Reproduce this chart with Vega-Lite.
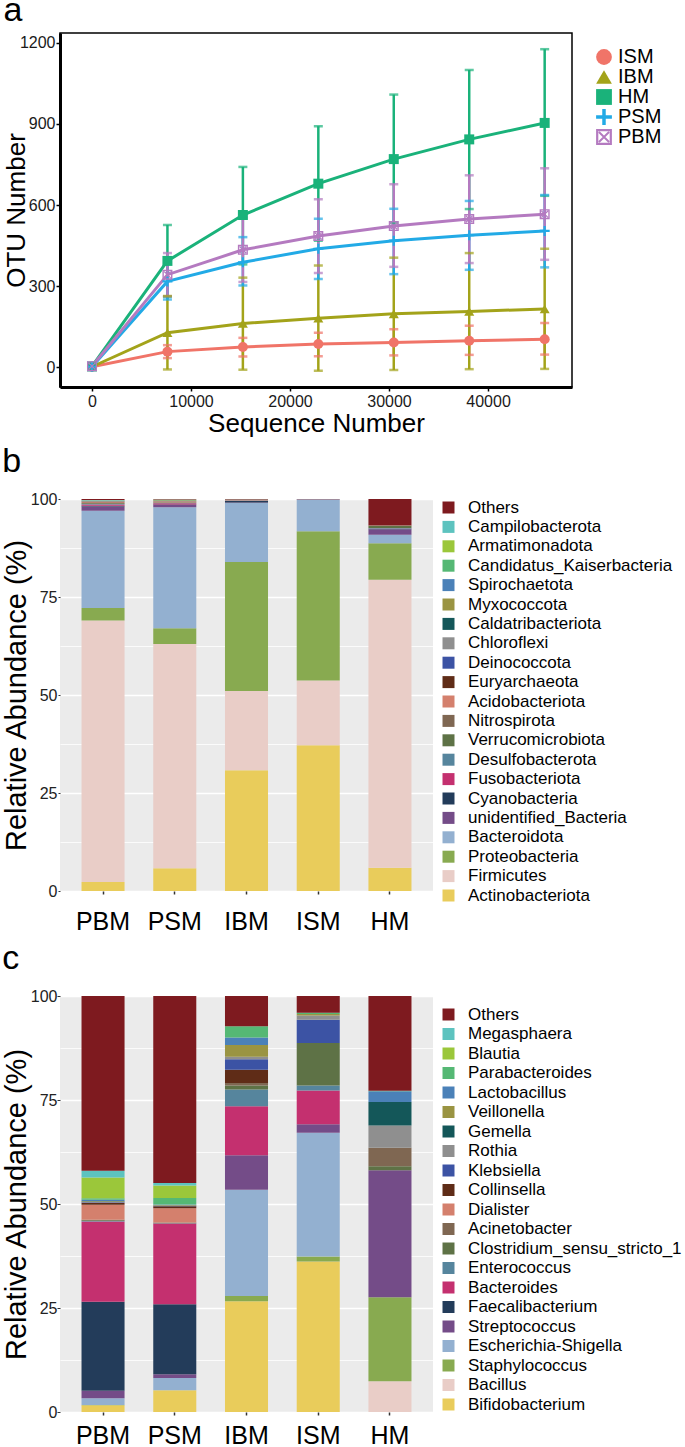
{
  "$schema": "https://vega.github.io/schema/vega-lite/v6.json",
  "padding": {"left": 2, "top": -7, "right": 0, "bottom": 0},
  "background": "white",
  "columns": 1,
  "spacing": 8,
  "config": {
    "font": "Liberation Sans",
    "axis": {"labelColor": "#1a1a1a", "titleColor": "#000000", "titleFontWeight": "normal"},
    "title": {"fontWeight": "normal", "color": "#000000"}
  },
  "resolve": {"scale": {"color": "independent", "shape": "independent"}, "legend": {"color": "independent", "shape": "independent"}},
  "datasets": {
    "rare": [
      {"group": "ISM", "seq": 0, "otu": 1, "lo": 1, "hi": 1},
      {"group": "ISM", "seq": 7620, "otu": 57, "lo": 33, "hi": 81},
      {"group": "ISM", "seq": 15240, "otu": 74, "lo": 39, "hi": 108},
      {"group": "ISM", "seq": 22860, "otu": 85, "lo": 40, "hi": 127},
      {"group": "ISM", "seq": 30480, "otu": 91, "lo": 43, "hi": 140},
      {"group": "ISM", "seq": 38100, "otu": 97, "lo": 45, "hi": 153},
      {"group": "ISM", "seq": 45720, "otu": 103, "lo": 46, "hi": 163},
      {"group": "IBM", "seq": 0, "otu": 1, "lo": 1, "hi": 1},
      {"group": "IBM", "seq": 7620, "otu": 127, "lo": -9, "hi": 263},
      {"group": "IBM", "seq": 15240, "otu": 161, "lo": -10, "hi": 331},
      {"group": "IBM", "seq": 22860, "otu": 181, "lo": -14, "hi": 376},
      {"group": "IBM", "seq": 30480, "otu": 197, "lo": -11, "hi": 405},
      {"group": "IBM", "seq": 38100, "otu": 206, "lo": -8, "hi": 422},
      {"group": "IBM", "seq": 45720, "otu": 215, "lo": -7, "hi": 438},
      {"group": "HM", "seq": 0, "otu": 2, "lo": 2, "hi": 2},
      {"group": "HM", "seq": 7620, "otu": 393, "lo": 260, "hi": 526},
      {"group": "HM", "seq": 15240, "otu": 563, "lo": 380, "hi": 741},
      {"group": "HM", "seq": 22860, "otu": 679, "lo": 468, "hi": 892},
      {"group": "HM", "seq": 30480, "otu": 770, "lo": 533, "hi": 1009},
      {"group": "HM", "seq": 38100, "otu": 843, "lo": 585, "hi": 1100},
      {"group": "HM", "seq": 45720, "otu": 904, "lo": 634, "hi": 1177},
      {"group": "PSM", "seq": 0, "otu": 1, "lo": 1, "hi": 1},
      {"group": "PSM", "seq": 7620, "otu": 317, "lo": 250, "hi": 384},
      {"group": "PSM", "seq": 15240, "otu": 388, "lo": 302, "hi": 481},
      {"group": "PSM", "seq": 22860, "otu": 438, "lo": 326, "hi": 549},
      {"group": "PSM", "seq": 30480, "otu": 468, "lo": 344, "hi": 586},
      {"group": "PSM", "seq": 38100, "otu": 488, "lo": 360, "hi": 615},
      {"group": "PSM", "seq": 45720, "otu": 504, "lo": 369, "hi": 637},
      {"group": "PBM", "seq": 0, "otu": 3, "lo": 3, "hi": 3},
      {"group": "PBM", "seq": 7620, "otu": 342, "lo": 262, "hi": 422},
      {"group": "PBM", "seq": 15240, "otu": 434, "lo": 315, "hi": 553},
      {"group": "PBM", "seq": 22860, "otu": 485, "lo": 348, "hi": 621},
      {"group": "PBM", "seq": 30480, "otu": 522, "lo": 371, "hi": 677},
      {"group": "PBM", "seq": 38100, "otu": 548, "lo": 385, "hi": 710},
      {"group": "PBM", "seq": 45720, "otu": 566, "lo": 397, "hi": 736}
    ],
    "phylum": [
      {"sample": "PBM", "taxon": "Actinobacteriota", "pct": 2.3},
      {"sample": "PBM", "taxon": "Firmicutes", "pct": 66.7},
      {"sample": "PBM", "taxon": "Proteobacteria", "pct": 3.2},
      {"sample": "PBM", "taxon": "Bacteroidota", "pct": 24.8},
      {"sample": "PBM", "taxon": "unidentified_Bacteria", "pct": 1.1},
      {"sample": "PBM", "taxon": "Cyanobacteria", "pct": 0.2},
      {"sample": "PBM", "taxon": "Fusobacteriota", "pct": 0.3},
      {"sample": "PBM", "taxon": "Desulfobacterota", "pct": 0.1},
      {"sample": "PBM", "taxon": "Verrucomicrobiota", "pct": 0.2},
      {"sample": "PBM", "taxon": "Nitrospirota", "pct": 0.1},
      {"sample": "PBM", "taxon": "Acidobacteriota", "pct": 0.2},
      {"sample": "PBM", "taxon": "Euryarchaeota", "pct": 0.1},
      {"sample": "PBM", "taxon": "Deinococcota", "pct": 0.05},
      {"sample": "PBM", "taxon": "Chloroflexi", "pct": 0.05},
      {"sample": "PBM", "taxon": "Caldatribacteriota", "pct": 0.05},
      {"sample": "PBM", "taxon": "Myxococcota", "pct": 0.1},
      {"sample": "PBM", "taxon": "Spirochaetota", "pct": 0.05},
      {"sample": "PBM", "taxon": "Candidatus_Kaiserbacteria", "pct": 0.05},
      {"sample": "PBM", "taxon": "Armatimonadota", "pct": 0.05},
      {"sample": "PBM", "taxon": "Campilobacterota", "pct": 0.05},
      {"sample": "PBM", "taxon": "Others", "pct": 0.25},
      {"sample": "PSM", "taxon": "Actinobacteriota", "pct": 5.8},
      {"sample": "PSM", "taxon": "Firmicutes", "pct": 57.2},
      {"sample": "PSM", "taxon": "Proteobacteria", "pct": 4.0},
      {"sample": "PSM", "taxon": "Bacteroidota", "pct": 30.9},
      {"sample": "PSM", "taxon": "unidentified_Bacteria", "pct": 0.6},
      {"sample": "PSM", "taxon": "Cyanobacteria", "pct": 0.1},
      {"sample": "PSM", "taxon": "Fusobacteriota", "pct": 0.3},
      {"sample": "PSM", "taxon": "Desulfobacterota", "pct": 0.1},
      {"sample": "PSM", "taxon": "Verrucomicrobiota", "pct": 0.1},
      {"sample": "PSM", "taxon": "Nitrospirota", "pct": 0.05},
      {"sample": "PSM", "taxon": "Acidobacteriota", "pct": 0.2},
      {"sample": "PSM", "taxon": "Euryarchaeota", "pct": 0.05},
      {"sample": "PSM", "taxon": "Deinococcota", "pct": 0.05},
      {"sample": "PSM", "taxon": "Chloroflexi", "pct": 0.05},
      {"sample": "PSM", "taxon": "Caldatribacteriota", "pct": 0.05},
      {"sample": "PSM", "taxon": "Myxococcota", "pct": 0.1},
      {"sample": "PSM", "taxon": "Spirochaetota", "pct": 0.05},
      {"sample": "PSM", "taxon": "Candidatus_Kaiserbacteria", "pct": 0.05},
      {"sample": "PSM", "taxon": "Armatimonadota", "pct": 0.05},
      {"sample": "PSM", "taxon": "Campilobacterota", "pct": 0.05},
      {"sample": "PSM", "taxon": "Others", "pct": 0.15},
      {"sample": "IBM", "taxon": "Actinobacteriota", "pct": 30.8},
      {"sample": "IBM", "taxon": "Firmicutes", "pct": 20.2},
      {"sample": "IBM", "taxon": "Proteobacteria", "pct": 32.9},
      {"sample": "IBM", "taxon": "Bacteroidota", "pct": 15.1},
      {"sample": "IBM", "taxon": "unidentified_Bacteria", "pct": 0.1},
      {"sample": "IBM", "taxon": "Cyanobacteria", "pct": 0.4},
      {"sample": "IBM", "taxon": "Fusobacteriota", "pct": 0.05},
      {"sample": "IBM", "taxon": "Desulfobacterota", "pct": 0.05},
      {"sample": "IBM", "taxon": "Verrucomicrobiota", "pct": 0.05},
      {"sample": "IBM", "taxon": "Nitrospirota", "pct": 0.02},
      {"sample": "IBM", "taxon": "Acidobacteriota", "pct": 0.05},
      {"sample": "IBM", "taxon": "Euryarchaeota", "pct": 0.02},
      {"sample": "IBM", "taxon": "Deinococcota", "pct": 0.02},
      {"sample": "IBM", "taxon": "Chloroflexi", "pct": 0.02},
      {"sample": "IBM", "taxon": "Caldatribacteriota", "pct": 0.02},
      {"sample": "IBM", "taxon": "Myxococcota", "pct": 0.02},
      {"sample": "IBM", "taxon": "Spirochaetota", "pct": 0.02},
      {"sample": "IBM", "taxon": "Candidatus_Kaiserbacteria", "pct": 0.02},
      {"sample": "IBM", "taxon": "Armatimonadota", "pct": 0.02},
      {"sample": "IBM", "taxon": "Campilobacterota", "pct": 0.02},
      {"sample": "IBM", "taxon": "Others", "pct": 0.12},
      {"sample": "ISM", "taxon": "Actinobacteriota", "pct": 37.2},
      {"sample": "ISM", "taxon": "Firmicutes", "pct": 16.5},
      {"sample": "ISM", "taxon": "Proteobacteria", "pct": 38.1},
      {"sample": "ISM", "taxon": "Bacteroidota", "pct": 8.0},
      {"sample": "ISM", "taxon": "unidentified_Bacteria", "pct": 0.05},
      {"sample": "ISM", "taxon": "Cyanobacteria", "pct": 0.03},
      {"sample": "ISM", "taxon": "Fusobacteriota", "pct": 0.02},
      {"sample": "ISM", "taxon": "Desulfobacterota", "pct": 0.02},
      {"sample": "ISM", "taxon": "Verrucomicrobiota", "pct": 0.01},
      {"sample": "ISM", "taxon": "Others", "pct": 0.07},
      {"sample": "HM", "taxon": "Actinobacteriota", "pct": 5.9},
      {"sample": "HM", "taxon": "Firmicutes", "pct": 73.5},
      {"sample": "HM", "taxon": "Proteobacteria", "pct": 9.3},
      {"sample": "HM", "taxon": "Bacteroidota", "pct": 2.2},
      {"sample": "HM", "taxon": "unidentified_Bacteria", "pct": 1.4},
      {"sample": "HM", "taxon": "Cyanobacteria", "pct": 0.1},
      {"sample": "HM", "taxon": "Fusobacteriota", "pct": 0.1},
      {"sample": "HM", "taxon": "Desulfobacterota", "pct": 0.1},
      {"sample": "HM", "taxon": "Verrucomicrobiota", "pct": 0.5},
      {"sample": "HM", "taxon": "Nitrospirota", "pct": 0.1},
      {"sample": "HM", "taxon": "Acidobacteriota", "pct": 0.05},
      {"sample": "HM", "taxon": "Euryarchaeota", "pct": 0.05},
      {"sample": "HM", "taxon": "Others", "pct": 6.7}
    ],
    "genus": [
      {"sample": "PBM", "taxon": "Bifidobacterium", "pct": 1.6},
      {"sample": "PBM", "taxon": "Staphylococcus", "pct": 0.1},
      {"sample": "PBM", "taxon": "Escherichia-Shigella", "pct": 1.6},
      {"sample": "PBM", "taxon": "Streptococcus", "pct": 1.8},
      {"sample": "PBM", "taxon": "Faecalibacterium", "pct": 21.4},
      {"sample": "PBM", "taxon": "Bacteroides", "pct": 19.3},
      {"sample": "PBM", "taxon": "Enterococcus", "pct": 0.1},
      {"sample": "PBM", "taxon": "Clostridium_sensu_stricto_1", "pct": 0.2},
      {"sample": "PBM", "taxon": "Acinetobacter", "pct": 0.1},
      {"sample": "PBM", "taxon": "Dialister", "pct": 3.6},
      {"sample": "PBM", "taxon": "Collinsella", "pct": 0.5},
      {"sample": "PBM", "taxon": "Klebsiella", "pct": 0.1},
      {"sample": "PBM", "taxon": "Rothia", "pct": 0.1},
      {"sample": "PBM", "taxon": "Gemella", "pct": 0.1},
      {"sample": "PBM", "taxon": "Veillonella", "pct": 0.1},
      {"sample": "PBM", "taxon": "Lactobacillus", "pct": 0.3},
      {"sample": "PBM", "taxon": "Parabacteroides", "pct": 0.4},
      {"sample": "PBM", "taxon": "Blautia", "pct": 5.0},
      {"sample": "PBM", "taxon": "Megasphaera", "pct": 1.6},
      {"sample": "PBM", "taxon": "Others", "pct": 42.0},
      {"sample": "PSM", "taxon": "Bifidobacterium", "pct": 5.2},
      {"sample": "PSM", "taxon": "Escherichia-Shigella", "pct": 3.0},
      {"sample": "PSM", "taxon": "Streptococcus", "pct": 0.9},
      {"sample": "PSM", "taxon": "Faecalibacterium", "pct": 16.8},
      {"sample": "PSM", "taxon": "Bacteroides", "pct": 19.4},
      {"sample": "PSM", "taxon": "Enterococcus", "pct": 0.1},
      {"sample": "PSM", "taxon": "Clostridium_sensu_stricto_1", "pct": 0.1},
      {"sample": "PSM", "taxon": "Acinetobacter", "pct": 0.05},
      {"sample": "PSM", "taxon": "Dialister", "pct": 3.4},
      {"sample": "PSM", "taxon": "Collinsella", "pct": 0.5},
      {"sample": "PSM", "taxon": "Klebsiella", "pct": 0.1},
      {"sample": "PSM", "taxon": "Rothia", "pct": 0.05},
      {"sample": "PSM", "taxon": "Gemella", "pct": 0.05},
      {"sample": "PSM", "taxon": "Veillonella", "pct": 0.1},
      {"sample": "PSM", "taxon": "Lactobacillus", "pct": 0.1},
      {"sample": "PSM", "taxon": "Parabacteroides", "pct": 1.6},
      {"sample": "PSM", "taxon": "Blautia", "pct": 3.0},
      {"sample": "PSM", "taxon": "Megasphaera", "pct": 0.6},
      {"sample": "PSM", "taxon": "Others", "pct": 44.95},
      {"sample": "IBM", "taxon": "Bifidobacterium", "pct": 26.6},
      {"sample": "IBM", "taxon": "Staphylococcus", "pct": 1.3},
      {"sample": "IBM", "taxon": "Escherichia-Shigella", "pct": 25.5},
      {"sample": "IBM", "taxon": "Streptococcus", "pct": 8.3},
      {"sample": "IBM", "taxon": "Bacteroides", "pct": 11.8},
      {"sample": "IBM", "taxon": "Enterococcus", "pct": 4.0},
      {"sample": "IBM", "taxon": "Clostridium_sensu_stricto_1", "pct": 1.0},
      {"sample": "IBM", "taxon": "Acinetobacter", "pct": 0.6},
      {"sample": "IBM", "taxon": "Collinsella", "pct": 3.2},
      {"sample": "IBM", "taxon": "Klebsiella", "pct": 2.5},
      {"sample": "IBM", "taxon": "Rothia", "pct": 0.6},
      {"sample": "IBM", "taxon": "Veillonella", "pct": 2.8},
      {"sample": "IBM", "taxon": "Lactobacillus", "pct": 1.8},
      {"sample": "IBM", "taxon": "Parabacteroides", "pct": 2.7},
      {"sample": "IBM", "taxon": "Others", "pct": 7.3},
      {"sample": "ISM", "taxon": "Bifidobacterium", "pct": 36.2},
      {"sample": "ISM", "taxon": "Staphylococcus", "pct": 1.2},
      {"sample": "ISM", "taxon": "Escherichia-Shigella", "pct": 29.7},
      {"sample": "ISM", "taxon": "Streptococcus", "pct": 2.1},
      {"sample": "ISM", "taxon": "Bacteroides", "pct": 8.1},
      {"sample": "ISM", "taxon": "Enterococcus", "pct": 1.2},
      {"sample": "ISM", "taxon": "Clostridium_sensu_stricto_1", "pct": 10.2},
      {"sample": "ISM", "taxon": "Klebsiella", "pct": 5.6},
      {"sample": "ISM", "taxon": "Rothia", "pct": 1.0},
      {"sample": "ISM", "taxon": "Veillonella", "pct": 0.4},
      {"sample": "ISM", "taxon": "Parabacteroides", "pct": 0.3},
      {"sample": "ISM", "taxon": "Others", "pct": 4.0},
      {"sample": "HM", "taxon": "Bacillus", "pct": 7.4},
      {"sample": "HM", "taxon": "Staphylococcus", "pct": 20.2},
      {"sample": "HM", "taxon": "Streptococcus", "pct": 30.5},
      {"sample": "HM", "taxon": "Clostridium_sensu_stricto_1", "pct": 1.0},
      {"sample": "HM", "taxon": "Acinetobacter", "pct": 4.4},
      {"sample": "HM", "taxon": "Rothia", "pct": 5.4},
      {"sample": "HM", "taxon": "Gemella", "pct": 5.6},
      {"sample": "HM", "taxon": "Lactobacillus", "pct": 2.6},
      {"sample": "HM", "taxon": "Parabacteroides", "pct": 0.1},
      {"sample": "HM", "taxon": "Others", "pct": 22.8}
    ]
  },
  "concat": [
    {
      "title": {"text": "a", "anchor": "start", "frame": "bounds", "fontSize": 34, "offset": 5},
      "width": 512,
      "height": 354,
      "view": {"stroke": "black", "strokeWidth": 1.5},
      "data": {"name": "rare"},
      "encoding": {
        "x": {"field": "seq", "type": "quantitative", "scale": {"domain": [-3230, 48480], "nice": false, "zero": false},
          "axis": {"values": [0, 10000, 20000, 30000, 40000], "format": "d", "grid": false, "domainColor": "black", "domainWidth": 3, "tickColor": "black", "tickSize": 4, "tickWidth": 1.5, "labelFontSize": 16, "labelPadding": 2, "title": "Sequence Number", "titleFontSize": 26, "titlePadding": 1}},
        "color": {"field": "group", "type": "nominal",
          "scale": {"domain": ["ISM", "IBM", "HM", "PSM", "PBM"], "range": ["#F07468", "#A3A31A", "#1AB27A", "#22AAE6", "#B47AC0"]},
          "legend": {"title": null, "orient": "right", "offset": 8, "padding": 14, "labelFontSize": 20, "symbolSize": 250, "symbolOpacity": 1, "rowPadding": 0, "labelOffset": 4, "symbolStrokeWidth": 0, "labelColor": "#000"}}
      },
      "layer": [
        {"mark": {"type": "rule", "strokeWidth": 2.5},
          "encoding": {"y": {"field": "lo", "type": "quantitative", "scale": {"domain": [-74, 1237], "nice": false, "zero": false},
            "axis": {"values": [0, 300, 600, 900, 1200], "format": "d", "grid": false, "domainColor": "black", "domainWidth": 3, "tickColor": "black", "tickSize": 4, "tickWidth": 1.5, "labelFontSize": 16, "labelPadding": 1, "title": "OTU Number", "titleFontSize": 26, "titlePadding": -10}},
            "y2": {"field": "hi"}}},
        {"mark": {"type": "tick", "orient": "horizontal", "size": 9, "thickness": 2.5},
          "encoding": {"y": {"field": "lo", "type": "quantitative"}}},
        {"mark": {"type": "tick", "orient": "horizontal", "size": 9, "thickness": 2.5},
          "encoding": {"y": {"field": "hi", "type": "quantitative"}}},
        {"mark": {"type": "line", "strokeWidth": 3},
          "encoding": {"y": {"field": "otu", "type": "quantitative"}}},
        {"mark": {"type": "point", "filled": true, "opacity": 1, "size": 100},
          "encoding": {"y": {"field": "otu", "type": "quantitative"},
            "shape": {"field": "group", "type": "nominal",
              "scale": {"domain": ["ISM", "IBM", "HM", "PSM", "PBM"], "range": ["circle", "triangle-up", "square", "M-1,-0.22H1V0.22H-1Z M-0.22,-1H0.22V1H-0.22Z", "M-1,-1H1V1H-1Z M-0.72,-0.72V0.72H0.72V-0.72Z M-0.55,-0.72L0.72,0.55L0.55,0.72L-0.72,-0.55Z M0.72,-0.55L-0.55,0.72L-0.72,0.55L0.55,-0.72Z"]},
              "legend": {"title": null, "orient": "right", "offset": 8, "padding": 14, "labelFontSize": 20, "symbolSize": 250, "symbolOpacity": 1, "rowPadding": 0, "labelOffset": 4, "symbolStrokeWidth": 0, "labelColor": "#000"}}}}
      ]
    },
    {
      "title": {"text": "b", "anchor": "start", "frame": "bounds", "fontSize": 34, "offset": 12},
      "width": 373,
      "height": 392,
      "view": {"fill": "#EBEBEB", "stroke": null},
      "data": {"name": "phylum"},
      "transform": [{"calculate": "indexof(['Actinobacteriota','Firmicutes','Proteobacteria','Bacteroidota','unidentified_Bacteria','Cyanobacteria','Fusobacteriota','Desulfobacterota','Verrucomicrobiota','Nitrospirota','Acidobacteriota','Euryarchaeota','Deinococcota','Chloroflexi','Caldatribacteriota','Myxococcota','Spirochaetota','Candidatus_Kaiserbacteria','Armatimonadota','Campilobacterota','Others'], datum.taxon)", "as": "rk"}],
      "layer": [
        {"mark": {"type": "bar"},
          "encoding": {
            "x": {"field": "sample", "type": "nominal", "sort": ["PBM", "PSM", "IBM", "ISM", "HM"], "scale": {"paddingInner": 0.4, "paddingOuter": 0.3},
              "axis": {"title": null, "labelAngle": 0, "domain": false, "tickSize": 3, "tickColor": "#333", "tickWidth": 1.5, "labelFontSize": 25, "labelPadding": 15, "labelColor": "#000"}},
            "y": {"field": "pct", "type": "quantitative", "stack": "zero", "scale": {"domain": [0, 100], "nice": false},
              "axis": {"values": [0, 25, 50, 75, 100], "grid": true, "gridColor": "white", "gridWidth": 1.6, "domain": false, "tickSize": 2, "tickColor": "#333", "labelFontSize": 16, "labelPadding": 1, "labelColor": "#222", "title": "Relative Abundance (%)", "titleFontSize": 29, "titlePadding": -1}},
            "color": {"field": "taxon", "type": "nominal",
              "scale": {"domain": ["Others", "Campilobacterota", "Armatimonadota", "Candidatus_Kaiserbacteria", "Spirochaetota", "Myxococcota", "Caldatribacteriota", "Chloroflexi", "Deinococcota", "Euryarchaeota", "Acidobacteriota", "Nitrospirota", "Verrucomicrobiota", "Desulfobacterota", "Fusobacteriota", "Cyanobacteria", "unidentified_Bacteria", "Bacteroidota", "Proteobacteria", "Firmicutes", "Actinobacteriota"],
                "range": ["#7E1A1F", "#5DC3BF", "#9BC73A", "#55B874", "#4B81B8", "#9A9442", "#145759", "#8F8F8F", "#3C53A4", "#5F2C17", "#D4806D", "#7F6752", "#5E7246", "#56859D", "#C4306F", "#233C5A", "#744C88", "#93B0D0", "#88AA50", "#E9CDC7", "#E9CC5B"]},
              "legend": {"title": null, "orient": "right", "offset": 7, "padding": 0, "symbolType": "square", "symbolSize": 144, "symbolOpacity": 1, "labelFontSize": 17, "rowPadding": 1.4, "labelOffset": 11, "labelLimit": 300, "symbolStrokeWidth": 0, "labelColor": "#000"}},
            "order": {"field": "rk", "type": "quantitative", "sort": "ascending"}
          }},
        {"mark": {"type": "rule", "opacity": 0},
          "encoding": {"y": {"datum": 50, "type": "quantitative",
            "axis": {"orient": "left", "values": [12.5, 37.5, 62.5, 87.5], "grid": true, "gridColor": "white", "gridWidth": 0.8, "labels": false, "ticks": false, "domain": false, "title": null, "minExtent": 0, "maxExtent": 0}}}}
      ],
      "resolve": {"axis": {"y": "independent"}}
    },
    {
      "title": {"text": "c", "anchor": "start", "frame": "bounds", "fontSize": 34, "offset": 12},
      "width": 373,
      "height": 416,
      "view": {"fill": "#EBEBEB", "stroke": null},
      "data": {"name": "genus"},
      "transform": [{"calculate": "indexof(['Bifidobacterium','Bacillus','Staphylococcus','Escherichia-Shigella','Streptococcus','Faecalibacterium','Bacteroides','Enterococcus','Clostridium_sensu_stricto_1','Acinetobacter','Dialister','Collinsella','Klebsiella','Rothia','Gemella','Veillonella','Lactobacillus','Parabacteroides','Blautia','Megasphaera','Others'], datum.taxon)", "as": "rk"}],
      "layer": [
        {"mark": {"type": "bar"},
          "encoding": {
            "x": {"field": "sample", "type": "nominal", "sort": ["PBM", "PSM", "IBM", "ISM", "HM"], "scale": {"paddingInner": 0.4, "paddingOuter": 0.3},
              "axis": {"title": null, "labelAngle": 0, "domain": false, "tickSize": 3, "tickColor": "#333", "tickWidth": 1.5, "labelFontSize": 25, "labelPadding": 8, "labelColor": "#000"}},
            "y": {"field": "pct", "type": "quantitative", "stack": "zero", "scale": {"domain": [0, 100], "nice": false},
              "axis": {"values": [0, 25, 50, 75, 100], "grid": true, "gridColor": "white", "gridWidth": 1.6, "domain": false, "tickSize": 3, "tickColor": "#333", "labelFontSize": 16, "labelPadding": 0, "labelColor": "#222", "title": "Relative Abundance (%)", "titleFontSize": 29, "titlePadding": -1}},
            "color": {"field": "taxon", "type": "nominal",
              "scale": {"domain": ["Others", "Megasphaera", "Blautia", "Parabacteroides", "Lactobacillus", "Veillonella", "Gemella", "Rothia", "Klebsiella", "Collinsella", "Dialister", "Acinetobacter", "Clostridium_sensu_stricto_1", "Enterococcus", "Bacteroides", "Faecalibacterium", "Streptococcus", "Escherichia-Shigella", "Staphylococcus", "Bacillus", "Bifidobacterium"],
                "range": ["#7E1A1F", "#5DC3BF", "#9BC73A", "#55B874", "#4B81B8", "#9A9442", "#145759", "#8F8F8F", "#3C53A4", "#5F2C17", "#D4806D", "#7F6752", "#5E7246", "#56859D", "#C4306F", "#233C5A", "#744C88", "#93B0D0", "#88AA50", "#E9CDC7", "#E9CC5B"]},
              "legend": {"title": null, "orient": "right", "offset": -3, "padding": 10, "symbolType": "square", "symbolSize": 144, "symbolOpacity": 1, "labelFontSize": 17, "rowPadding": 1.5, "labelOffset": 11, "labelLimit": 300, "symbolStrokeWidth": 0, "labelColor": "#000"}},
            "order": {"field": "rk", "type": "quantitative", "sort": "ascending"}
          }},
        {"mark": {"type": "rule", "opacity": 0},
          "encoding": {"y": {"datum": 50, "type": "quantitative",
            "axis": {"orient": "left", "values": [12.5, 37.5, 62.5, 87.5], "grid": true, "gridColor": "white", "gridWidth": 0.8, "labels": false, "ticks": false, "domain": false, "title": null, "minExtent": 0, "maxExtent": 0}}}}
      ],
      "resolve": {"axis": {"y": "independent"}}
    }
  ]
}
